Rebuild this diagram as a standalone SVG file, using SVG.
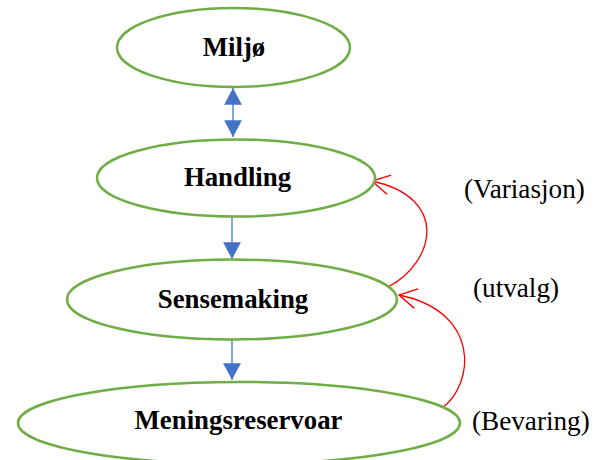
<svg xmlns="http://www.w3.org/2000/svg" width="595" height="460" viewBox="0 0 595 460">
<style>
.node{fill:#fff;stroke:#70AD47;stroke-width:2.5}
.lbl{font-family:"Liberation Serif","Times New Roman",serif;font-weight:bold;font-size:26.8px;text-anchor:middle;fill:#000}
.side{font-family:"Liberation Serif","Times New Roman",serif;font-size:27.2px;fill:#000}
.blue{stroke:#4472C4;stroke-width:1.3;fill:none}
.red{stroke:#FF0000;stroke-width:1.3;fill:none}
</style>
<defs>
<marker id="bh" markerUnits="userSpaceOnUse" markerWidth="20" markerHeight="20" refX="0" refY="0" viewBox="-16 -9 17 18" orient="auto">
<path d="M-15,-8 L0,0 L-15,8 Z" fill="#4472C4"/>
</marker>
<marker id="bhs" markerUnits="userSpaceOnUse" markerWidth="20" markerHeight="20" refX="0" refY="0" viewBox="-16 -9 17 18" orient="auto-start-reverse">
<path d="M-15,-8 L0,0 L-15,8 Z" fill="#4472C4"/>
</marker>
<marker id="rh" markerUnits="userSpaceOnUse" markerWidth="20" markerHeight="24" refX="0" refY="0" viewBox="-17 -11 18 22" orient="auto">
<path d="M-16,-9 L0,0 L-16,9" fill="none" stroke="#FF0000" stroke-width="1.3"/>
</marker>
</defs>
<g id="connectors">
<line class="blue" x1="233" y1="88" x2="233" y2="137" marker-start="url(#bhs)" marker-end="url(#bh)"/>
<line class="blue" x1="232" y1="217" x2="232" y2="259" marker-end="url(#bh)"/>
<line class="blue" x1="232" y1="340" x2="232" y2="380" marker-end="url(#bh)"/>
<path class="red" d="M388,287 C435,262 450,198 372,181" marker-end="url(#rh)"/>
<path class="red" d="M442,408 C474,385 482,312 399,295" marker-end="url(#rh)"/>
</g>
<g id="miljo">
<ellipse class="node" cx="233.5" cy="47.5" rx="116.5" ry="39.5"/>
<text class="lbl" x="234" y="56">Miljø</text>
</g>
<g id="handling">
<ellipse class="node" cx="236" cy="178" rx="139" ry="38.5"/>
<text class="lbl" x="237.5" y="186">Handling</text>
</g>
<g id="sensemaking">
<ellipse class="node" cx="232" cy="299.5" rx="165" ry="40"/>
<text class="lbl" x="233" y="308">Sensemaking</text>
</g>
<g id="meningsreservoar">
<ellipse class="node" cx="239" cy="423" rx="221" ry="41"/>
<text class="lbl" x="238.5" y="429">Meningsreservoar</text>
</g>
<g id="labels">
<text class="side" x="464" y="198">(Variasjon)</text>
<text class="side" x="473" y="297">(utvalg)</text>
<text class="side" x="472" y="430">(Bevaring)</text>
</g>
</svg>
